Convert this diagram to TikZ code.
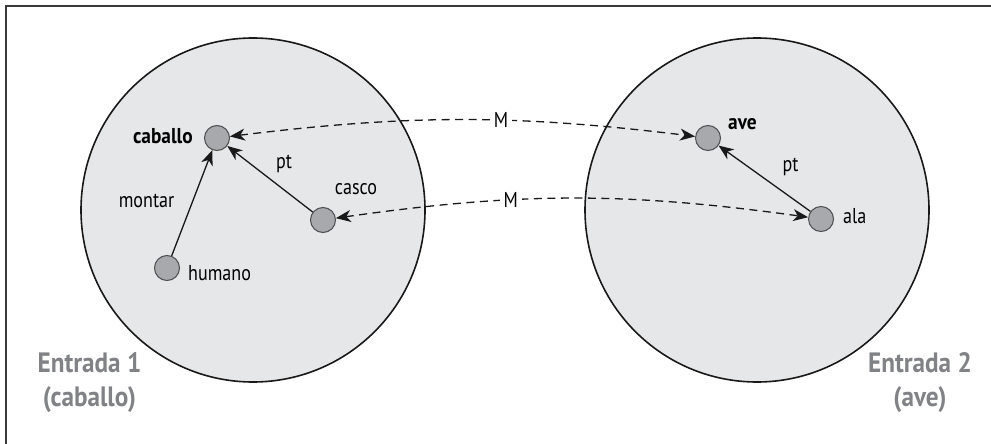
\documentclass[tikz,border=0pt]{standalone}
\usepackage{fontspec}
\setmainfont{PT Sans}[FakeStretch=0.84, BoldFeatures={FakeStretch=0.9}]
\usetikzlibrary{arrows.meta}
\definecolor{setfill}{HTML}{E6E7E8}
\definecolor{dotfill}{HTML}{A7A9AC}
\definecolor{dotline}{HTML}{4D4D4F}
\definecolor{captiongray}{HTML}{808285}
\definecolor{framegray}{HTML}{3A3A3A}
\tikzset{reltip/.tip={Stealth[length=15pt, width=12pt, inset=4.5pt]}}
\begin{document}
\begin{tikzpicture}[x=1pt,y=-1pt,
  entry/.style={circle, fill=setfill, draw=black!90, line width=1.6pt,
    minimum size=344pt, inner sep=0pt, outer sep=0pt},
  concept/.style={circle, fill=dotfill, draw=dotline, line width=1pt,
    minimum size=25pt, inner sep=0pt},
  lbl/.style={inner sep=0pt, font=\fontsize{21.5}{26}\selectfont, text=black},
  boldlbl/.style={lbl, font=\bfseries\fontsize{21.5}{26}\selectfont},
  caption/.style={inner sep=0pt, align=center, text=captiongray,
    font=\bfseries\fontsize{28}{34}\selectfont},
  rel/.style={-{reltip}, line width=1.3pt, black!90},
  map/.style={{reltip}-{reltip}, line width=1.3pt, black!90,
    dash pattern=on 8pt off 5.5pt},
  mlabel/.style={fill=white, inner xsep=4pt, inner ysep=1pt,
    font=\fontsize{21.5}{26}\selectfont, text=black},
  framerule/.style={line width=1.6pt, framegray}
]
\useasboundingbox (0,0) rectangle (991,444);

% outer frame (top and left rules)
\draw[framerule] (6,444) -- (6,6) -- (991,6);

% the two entries
\node[entry] (e1) at (253,210) {};
\node[entry] (e2) at (757,210) {};

% concepts of entry 1
\node[concept] (caballo) at (217,138) {};
\node[concept] (casco)   at (323,220) {};
\node[concept] (humano)  at (167,268) {};
% concepts of entry 2
\node[concept] (ave) at (708,138) {};
\node[concept] (ala) at (821,219) {};

% relations inside each entry
\draw[rel] (humano) -- (caballo);
\draw[rel] (casco) -- (caballo);
\draw[rel] (ala) -- (ave);

% mappings between the entries
\draw[map] (caballo) to[bend left=7] node[mlabel, pos=0.59] {M} (ave);
\draw[map] (casco) to[bend left=8] node[mlabel, pos=0.36] {M} (ala);

% concept and relation labels
\node[boldlbl, anchor=base east] (lcaballo) at (193,143) {caballo};
\node[lbl, anchor=base] (lmontar) at (146.5,207) {montar};
\node[lbl, anchor=base] (lpt1) at (284,168) {pt};
\node[lbl, anchor=base] (lcasco) at (356,194) {casco};
\node[lbl, anchor=base west] (lhumano) at (188,280) {humano};
\node[boldlbl, anchor=base west] (lave) at (728,129) {ave};
\node[lbl, anchor=base] (lpt2) at (790.5,171) {pt};
\node[lbl, anchor=base west] (lala) at (843,223) {ala};

% entry captions
\node[caption] (c1) at (89.5,383) {Entrada 1\\(caballo)};
\node[caption] (c2) at (920,383) {Entrada 2\\(ave)};
\end{tikzpicture}
\end{document}
